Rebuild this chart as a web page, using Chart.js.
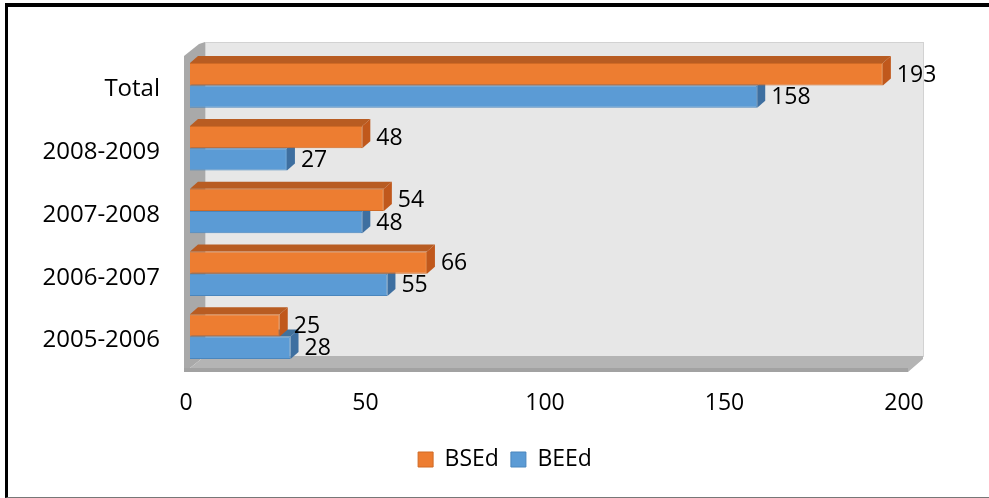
<!DOCTYPE html>
<html lang="en">
  <head>
    <meta charset="UTF-8" />
    <title>BSEd / BEEd</title>
    <style>
      body {
        margin: 0;
        padding: 0;
        background: #fff;
      }

      .frame {
        position: relative;
        width: 989px;
        height: 498px;
        overflow: hidden;
      }

      /* black frame on top and left, thin grey line at the bottom */
      .frame .edge {
        position: absolute;
        left: 5px;
        top: 3px;
        right: 0;
        bottom: 0;
        border-top: 4px solid #000;
        border-left: 3px solid #000;
        border-bottom: 1px solid #777;
        pointer-events: none;
      }

      canvas {
        position: absolute;
        left: 0;
        top: 0;
      }
    </style>
    <script src="https://cdn.jsdelivr.net/npm/chart.js"></script>
  </head>
  <body>
    <div class="frame">
      <canvas id="chart" width="989" height="498"></canvas>
      <div class="edge"></div>
    </div>

    <script>
      // data
      const years = ['Total', '2008-2009', '2007-2008', '2006-2007', '2005-2006'];
      const bsed = [193, 48, 54, 66, 25];
      const beed = [158, 27, 48, 55, 28];
      const xTicks = [0, 50, 100, 150, 200];

      // depth of the walls and of the bars (the fake 3D look)
      const WALL_DX = 15, WALL_DY = 12;
      const BAR_DX = 8, BAR_DY = 7;

      Chart.defaults.font.family = "'Open Sans', sans-serif";
      Chart.defaults.font.size = 23;
      Chart.defaults.color = '#000';

      const faces = {
        BSEd: { top: '#b85c22', side: '#c0581c' },
        BEEd: { top: '#41719c', side: '#3e6fa0' }
      };

      // walls, floor and bar depth faces, drawn before the bar fronts
      const walls3d = {
        id: 'walls3d',
        afterLayout(chart) {
          // legend sits centred under the whole picture, not the plot
          const lg = chart.legend;
          lg.left += 46;
          lg.right += 46;
        },
        beforeDatasetsDraw(chart) {
          const { ctx, chartArea: a } = chart;
          ctx.save();
          // back wall
          ctx.fillStyle = '#e7e7e7';
          ctx.strokeStyle = '#d2d2d2';
          ctx.lineWidth = 1;
          ctx.fillRect(a.left + WALL_DX, a.top - WALL_DY, a.right - a.left, a.bottom - a.top);
          ctx.strokeRect(a.left + WALL_DX + 0.5, a.top - WALL_DY + 0.5, a.right - a.left, a.bottom - a.top);

          // left wall
          ctx.fillStyle = '#a9a9a9';
          ctx.beginPath();
          ctx.moveTo(a.left - 6, a.top + 2);
          ctx.lineTo(a.left + WALL_DX - 6, a.top - WALL_DY + 2);
          ctx.lineTo(a.left + WALL_DX, a.top - WALL_DY);
          ctx.lineTo(a.left + WALL_DX, a.bottom - WALL_DY);
          ctx.lineTo(a.left, a.bottom);
          ctx.lineTo(a.left - 6, a.bottom + 4);
          ctx.closePath();
          ctx.fill();

          // floor
          ctx.fillStyle = '#b4b4b4';
          ctx.beginPath();
          ctx.moveTo(a.left, a.bottom);
          ctx.lineTo(a.left + WALL_DX, a.bottom - WALL_DY);
          ctx.lineTo(a.right + WALL_DX, a.bottom - WALL_DY);
          ctx.lineTo(a.right + WALL_DX, a.bottom - WALL_DY + 3);
          ctx.lineTo(a.right, a.bottom + 4);
          ctx.lineTo(a.left - 6, a.bottom + 4);
          ctx.closePath();
          ctx.fill();
          ctx.fillStyle = '#a2a2a2';
          ctx.fillRect(a.left - 6, a.bottom, a.right - a.left + 6, 4);

          // depth faces of the bars, back dataset first
          for (let d = chart.data.datasets.length - 1; d >= 0; d--) {
            const ds = chart.data.datasets[d];
            const f = faces[ds.label];
            chart.getDatasetMeta(d).data.forEach(bar => {
              const top = bar.y - bar.height / 2;
              const bottom = bar.y + bar.height / 2;
              const left = bar.base;
              const right = bar.x;
              // top face
              ctx.fillStyle = f.top;
              ctx.beginPath();
              ctx.moveTo(left, top);
              ctx.lineTo(left + BAR_DX, top - BAR_DY);
              ctx.lineTo(right + BAR_DX, top - BAR_DY);
              ctx.lineTo(right, top);
              ctx.closePath();
              ctx.fill();
              // right face
              ctx.fillStyle = f.side;
              ctx.beginPath();
              ctx.moveTo(right, top);
              ctx.lineTo(right + BAR_DX, top - BAR_DY);
              ctx.lineTo(right + BAR_DX, bottom - BAR_DY);
              ctx.lineTo(right, bottom);
              ctx.closePath();
              ctx.fill();
            });
          }
          ctx.restore();
        },
        afterDatasetsDraw(chart) {
          // value labels to the right of each bar
          const { ctx } = chart;
          ctx.save();
          ctx.font = "23px 'Open Sans', sans-serif";
          ctx.fillStyle = '#000';
          ctx.textBaseline = 'middle';
          chart.data.datasets.forEach((ds, d) => {
            chart.getDatasetMeta(d).data.forEach((bar, i) => {
              ctx.fillText(ds.data[i], bar.x + BAR_DX + 6, bar.y + 1);
            });
          });
          ctx.restore();
        }
      };

      const ctx = document.getElementById('chart').getContext('2d');
      new Chart(ctx, {
        type: 'bar',
        data: {
          labels: years,
          datasets: [
            {
              label: 'BSEd',
              data: bsed,
              backgroundColor: '#ed7d31',
              borderColor: '#d06a25',
              borderWidth: 1,
              barPercentage: 1,
              categoryPercentage: 0.71
            },
            {
              label: 'BEEd',
              data: beed,
              backgroundColor: '#5b9bd5',
              borderColor: '#4a86bd',
              borderWidth: 1,
              barPercentage: 1,
              categoryPercentage: 0.71
            }
          ]
        },
        options: {
          indexAxis: 'y',
          responsive: false,
          animation: false,
          layout: {
            padding: { left: 10, right: 81, top: 54, bottom: 17 }
          },
          scales: {
            x: {
              min: 0,
              max: 200,
              afterBuildTicks: scale => {
                scale.ticks = xTicks.map(v => ({ value: v }));
              },
              afterFit: scale => {
                scale.height = 68;
              },
              grid: { display: false, drawTicks: false },
              border: { display: false },
              ticks: { padding: 22, labelOffset: -4 }
            },
            y: {
              afterFit: scale => {
                scale.width = 180;
              },
              grid: { display: false, drawTicks: false },
              border: { display: false },
              ticks: { padding: 30, labelOffset: 4, font: { size: 24 } }
            }
          },
          plugins: {
            legend: {
              position: 'bottom',
              labels: {
                boxWidth: 15,
                boxHeight: 15,
                padding: 12,
                font: { size: 23 }
              }
            },
            tooltip: { enabled: false }
          }
        },
        plugins: [walls3d]
      });
    </script>
  </body>
</html>
